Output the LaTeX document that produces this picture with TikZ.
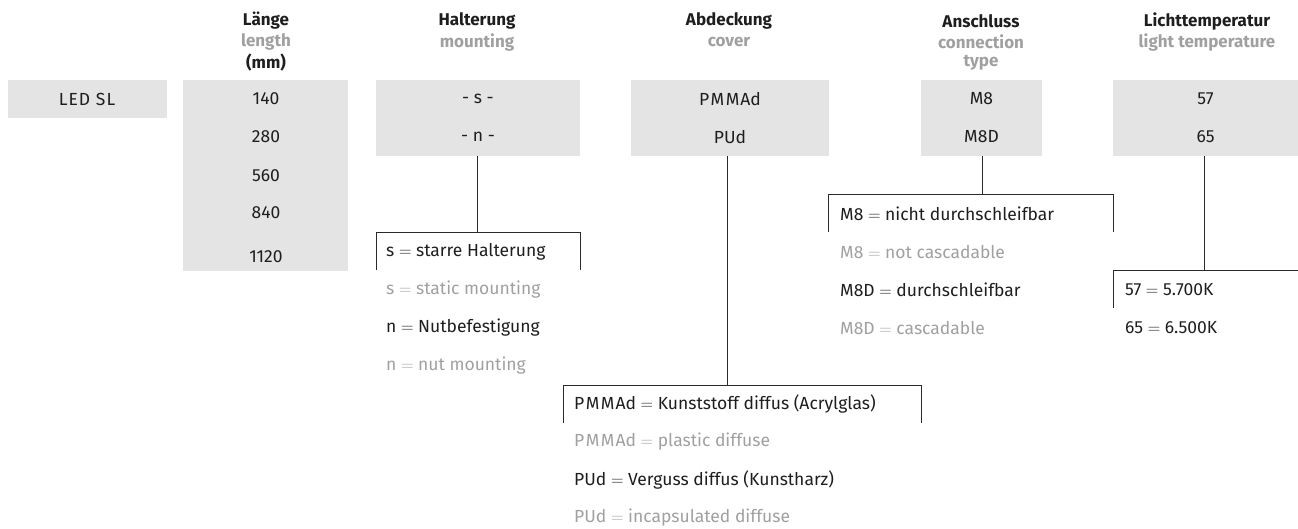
\documentclass[tikz,border=0pt]{standalone}
\usepackage{fontspec}
\setmainfont{Fira Sans}
\newfontfamily\spacedfont[LetterSpace=6]{Fira Sans}
\definecolor{boxgray}{HTML}{E4E4E4}
\definecolor{txtdark}{HTML}{1E1E1E}
\definecolor{txtlight}{HTML}{A0A0A0}
\definecolor{linecol}{HTML}{2A2A2A}
\newcommand{\eqs}{\ \ensuremath{=}\ }
\begin{document}
\begin{tikzpicture}[x=1pt,y=-1pt,
  graybox/.style={fill=boxgray, draw=none, anchor=north west, inner sep=0pt},
  head/.style={font=\fontsize{17}{19}\selectfont\bfseries, text=txtdark, inner sep=0pt, anchor=center},
  headsub/.style={font=\fontsize{17}{19}\selectfont\bfseries, text=txtlight, inner sep=0pt, anchor=center},
  val/.style={font=\fontsize{17.5}{19}\selectfont, text=txtdark, inner sep=0pt, anchor=center},
  itemd/.style={font=\fontsize{17.5}{19}\selectfont, text=txtdark, inner sep=0pt, anchor=west},
  iteml/.style={font=\fontsize{17.5}{19}\selectfont, text=txtlight, inner sep=0pt, anchor=west},
  conn/.style={draw=linecol, line width=0.9pt},
  bracket/.style={draw=linecol, line width=0.9pt}
]
\useasboundingbox (0,0) rectangle (1298,528);
% headers
\node[head] (h1) at (266,21) {Länge};
\node[headsub] (h1b) at (266,42) {length};
\node[head] (h1c) at (266,63) {(mm)};
\node[head] (h2) at (477,21) {Halterung};
\node[headsub] (h2b) at (477,42) {mounting};
\node[head] (h3) at (729,21) {Abdeckung};
\node[headsub] (h3b) at (729,42) {cover};
\node[head] (h4) at (981,21) {Anschluss};
\node[headsub] (h4b) at (981,42) {connection};
\node[headsub] (h4c) at (981,63) {type};
\node[head] (h5) at (1207,21) {Lichttemperatur};
\node[headsub] (h5b) at (1207,42) {light temperature};
% gray boxes
\node[graybox, minimum width=159.5pt, minimum height=38pt] (led) at (7.5,80) {};
\node[graybox, minimum width=165pt, minimum height=191pt] (len) at (183,80) {};
\node[graybox, minimum width=204pt, minimum height=76pt] (halt) at (376,80) {};
\node[graybox, minimum width=198pt, minimum height=76pt] (abd) at (631,80) {};
\node[graybox, minimum width=121pt, minimum height=76pt] (ans) at (921,80) {};
\node[graybox, minimum width=185pt, minimum height=76pt] (licht) at (1113,80) {};
% values
\node[val] (vled) at (87,99) {\spacedfont LED SL};
\node[val] (l1) at (266,99) {140};
\node[val] (l2) at (266,137) {280};
\node[val] (l3) at (266,176) {560};
\node[val] (l4) at (266,213) {840};
\node[val] (l5) at (266,257) {1120};
\node[val] (m1) at (478,99) {- s -};
\node[val] (m2) at (478,137) {- n -};
\node[val] (c1) at (730,99) {P\kern1.5pt M\kern1.5pt M\kern1pt Ad};
\node[val] (c2) at (730,137) {PUd};
\node[val] (a1) at (981.5,99) {M8};
\node[val] (a2) at (981.5,137) {M8D};
\node[val] (t1) at (1205.5,99) {57};
\node[val] (t2) at (1205.5,137) {65};
% connection coordinates
\coordinate (hb) at (477,232);
\coordinate (cb) at (727,385);
\coordinate (ab) at (982,194);
\coordinate (tb) at (1204,270);
% connectors
\draw[conn] (halt.south -| hb) -- (hb);
\draw[conn] (abd.south -| cb) -- (cb);
\draw[conn] (ans.south -| ab) -- (ab);
\draw[conn] (licht.south -| tb) -- (tb);
% brackets
\draw[bracket] (376,270) -- (376,232) -- (580,232) -- (580,270);
\draw[bracket] (563,423) -- (563,385) -- (921,385) -- (921,423);
\draw[bracket] (828,232) -- (828,194) -- (1113,194) -- (1113,232);
\draw[bracket] (1113,308) -- (1113,270) -- (1299,270);
% legend items
\node[itemd] (s1) at (386,252) {s\eqs starre Halterung};
\node[iteml] (s2) at (386,290) {s\eqs static mounting};
\node[itemd] (n1) at (386,328) {n\eqs Nutbefestigung};
\node[iteml] (n2) at (386,366) {n\eqs nut mounting};
\node[itemd] (p1) at (574,404) {P\kern1.5pt M\kern1.5pt M\kern1pt Ad\eqs Kunststoff diffus (Acrylglas)};
\node[iteml] (p2) at (574,442) {P\kern1.5pt M\kern1.5pt M\kern1pt Ad\eqs plastic diffuse};
\node[itemd] (p3) at (574,480) {PUd\eqs Verguss diffus (Kunstharz)};
\node[iteml] (p4) at (574,518) {PUd\eqs incapsulated diffuse};
\node[itemd] (k1) at (840,214) {M8\eqs nicht durchschleifbar};
\node[iteml] (k2) at (840,252) {M8\eqs not cascadable};
\node[itemd] (k3) at (840,290) {M8D\eqs durchschleifbar};
\node[iteml] (k4) at (840,328) {M8D\eqs cascadable};
\node[itemd] (e1) at (1125,290) {57\eqs 5.700K};
\node[itemd] (e2) at (1125,328) {65\eqs 6.500K};
\end{tikzpicture}
\end{document}
